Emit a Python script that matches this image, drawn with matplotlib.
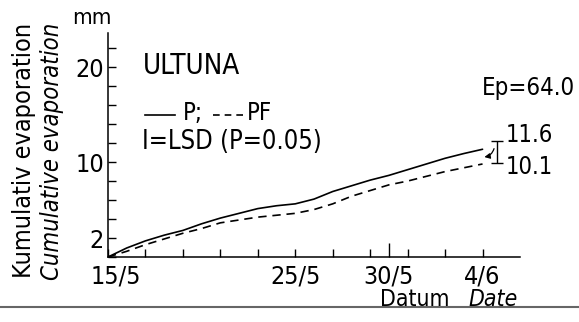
import matplotlib
matplotlib.use("Agg")
import matplotlib.pyplot as plt
from matplotlib.lines import Line2D
import numpy as np

# ---- data ----
days = list(range(0, 21))  # days after 15/5
p_values = [0, 0.95, 1.7, 2.3, 2.8, 3.5, 4.1, 4.6, 5.1, 5.4, 5.6, 6.1, 6.9, 7.5, 8.1, 8.6, 9.2, 9.8, 10.4, 10.9, 11.35]
pf_values = [0, 0.6, 1.3, 1.9, 2.5, 3.0, 3.6, 3.9, 4.2, 4.4, 4.6, 5.0, 5.6, 6.4, 7.0, 7.6, 8.0, 8.5, 9.0, 9.4, 9.8]
xtick_days = [0, 10, 15, 20]
xtick_labels = ["15/5", "25/5", "30/5", "4/6"]
ytick_vals = [2, 10, 20]
lsd_low, lsd_high = 9.9, 12.2
end_labels = ["11.6", "10.1"]

W, H = 579, 322
plt.rcParams['font.family'] = ['DejaVu Sans']
plt.rcParams['font.stretch'] = 'condensed'
fig = plt.figure(figsize=(W / 100, H / 100), dpi=100)
renderer = fig.canvas.get_renderer()

def fx(px):
    return px / W

def fy(py):
    return 1 - py / H

def fit(t, target, vertical=False):
    """scale font size so that the text extent matches target pixels"""
    for _ in range(3):
        bb = t.get_window_extent(renderer)
        cur = bb.height if vertical else bb.width
        if cur > 0:
            t.set_fontsize(t.get_fontsize() * target / cur)
    return t

ax = fig.add_axes([fx(108), fy(257), fx(520) - fx(108), fy(33) - fy(257)])
ax.set_xlim(0, 22)
ax.set_ylim(0, 23.6)
for s in ["top", "right"]:
    ax.spines[s].set_visible(False)
for s in ["left", "bottom"]:
    ax.spines[s].set_linewidth(1.1)

ax.plot(days, p_values, color="black", lw=1.2, solid_capstyle="round")
ax.plot(days, pf_values, color="black", lw=1.2, dashes=(5, 3.5))

# y ticks
yt = np.arange(0, 23, 2)
ax.set_yticks(yt)
ax.set_yticklabels([str(v) if v in ytick_vals else "" for v in yt])
ax.tick_params(axis="y", direction="in", length=6, width=1, labelsize=18, pad=3)

# x ticks (every 2 days + 30/5)
ax.set_xticks(list(range(0, 22, 2)))
ax.set_xticklabels([])
ax.tick_params(axis="x", direction="in", length=6, width=1)
ax.set_xticks([15], minor=True)
ax.tick_params(axis="x", which="minor", direction="in", length=10, width=1)

for d, lab in zip(xtick_days, xtick_labels):
    off = 0.43 if d == 0 else 0
    ax.text(d + off, -2.1, lab, ha="center", va="center", fontsize=18)

# axis labels
fit(fig.text(fx(24), fy(150), "Kumulativ evaporation", rotation=90, ha="center", va="center", fontsize=17), 255, True)
fit(fig.text(fx(52), fy(151), "Cumulative evaporation", rotation=90, ha="center", va="center", fontsize=17, style="italic"), 258, True)
fig.text(fx(92), fy(18), "mm", ha="center", va="center", fontsize=16)
fig.text(fx(449), fy(300), "Datum", ha="right", va="center", fontsize=16.5)
fig.text(fx(518), fy(300), "Date", ha="right", va="center", fontsize=16.5, style="italic")

# annotations
fit(fig.text(fx(143), fy(66), "ULTUNA", ha="left", va="center", fontsize=17), 97)
fig.add_artist(Line2D([fx(145), fx(175)], [fy(115), fy(115)], color="black", lw=1.2))
fig.text(fx(183), fy(113), "P;", ha="left", va="center", fontsize=17)
fig.add_artist(Line2D([fx(213), fx(246)], [fy(115), fy(115)], color="black", lw=1.2, dashes=(4, 3)))
fig.text(fx(247), fy(113), "PF", ha="left", va="center", fontsize=17)
fit(fig.text(fx(142), fy(142), "I=LSD (P=0.05)", ha="left", va="center", fontsize=16.5), 181)
fit(fig.text(fx(482), fy(88), "Ep=64.0", ha="left", va="center", fontsize=16), 93)
fig.text(fx(506), fy(135), end_labels[0], ha="left", va="center", fontsize=17)
fig.text(fx(506), fy(167), end_labels[1], ha="left", va="center", fontsize=17)

# LSD bar
ax.errorbar([20.75], [(lsd_low + lsd_high) / 2], yerr=[[(lsd_high - lsd_low) / 2]],
            fmt="none", ecolor="black", elinewidth=1, capsize=4, capthick=1, clip_on=False)
ax.annotate("", xy=(19.95, 10.5), xytext=(20.65, 11.7),
            arrowprops=dict(arrowstyle="-|>", color="black", lw=0.9, mutation_scale=8,
                            connectionstyle="arc3,rad=-0.4"))

# bottom page border line
fig.add_artist(Line2D([0, 1], [fy(307), fy(307)], color="#666666", lw=1.5))

fig.savefig("out.png", dpi=100)
